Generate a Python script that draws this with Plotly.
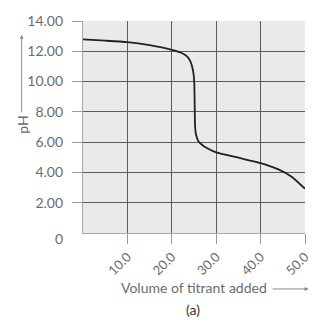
import plotly.graph_objects as go

volume = [0, 5, 10, 15, 20, 22, 23.5, 24.3, 24.8, 25.05, 25.15, 25.25, 25.45, 25.95, 27, 28, 30, 35, 40, 44, 47, 50]
ph = [12.78, 12.70, 12.60, 12.40, 12.10, 11.92, 11.65, 11.25, 10.7, 10.0, 8.5, 7.0, 6.5, 6.08, 5.78, 5.6, 5.32, 4.97, 4.62, 4.2, 3.72, 2.92]

y_ticks = [2, 4, 6, 8, 10, 12, 14]
y_labels = ["2.00", "4.00", "6.00", "8.00", "10.00", "12.00", "14.00"]
y_grid = [2, 4, 6, 8, 10, 12]
x_ticks = [10, 20, 30, 40, 50]
x_labels = ["10.0", "20.0", "30.0", "40.0", "50.0"]
x_grid = [10, 20, 30, 40]

FONT = "Lato"
TXT = "#6b6b6b"
GRID = "#5c5c5c"

fig = go.Figure()
fig.add_trace(go.Scatter(x=[volume[0]], y=[ph[0]], mode="markers", marker=dict(opacity=0),
                         showlegend=False, hoverinfo="skip", xaxis="x", yaxis="y"))
fig.add_trace(go.Scatter(x=volume, y=ph, mode="lines",
                         line=dict(color="#222222", width=1.8, shape="spline", smoothing=0.6),
                         showlegend=False, hoverinfo="skip", xaxis="x2", yaxis="y2"))

fig.update_layout(
    width=326, height=324,
    margin=dict(l=83, r=21, t=17, b=91),
    paper_bgcolor="white", plot_bgcolor="#e9eaeb",
    font=dict(family=FONT, size=14, color=TXT),
    xaxis=dict(range=[0, 50], tickvals=x_ticks, ticktext=x_labels, tickangle=-45,
               ticks="outside", ticklen=10, tickcolor="#999999", tickwidth=1,
               showgrid=False, showline=True, linecolor="#a8a8a8", linewidth=1.2,
               zeroline=False, tickfont=dict(family=FONT, size=13, color=TXT)),
    yaxis=dict(range=[0, 14], tickvals=y_ticks, ticktext=y_labels,
               ticks="outside", ticklen=10, tickcolor="#999999", tickwidth=1,
               showgrid=False, showline=True, linecolor="#a8a8a8", linewidth=1.2,
               zeroline=False, ticklabelstandoff=6,
               tickfont=dict(family=FONT, size=14, color=TXT)),
    xaxis2=dict(range=[0, 50], overlaying="x", tickvals=x_grid, showticklabels=False,
                ticks="", showgrid=True, gridcolor=GRID, gridwidth=1.3,
                showline=False, zeroline=False),
    yaxis2=dict(range=[0, 14], overlaying="y", tickvals=y_grid, showticklabels=False,
                ticks="", showgrid=True, gridcolor=GRID, gridwidth=1.3,
                showline=False, zeroline=False),
)

W, H = 222.0, 216.0
def px(x):
    return (x - 83.3) / W
def py(y):
    return (233 - y) / H

# axis-title arrows: shaft as shape line, head as a short annotation arrow
fig.add_shape(type="line", xref="paper", yref="paper", x0=px(22), x1=px(22), y0=py(110), y1=py(34),
              line=dict(color="#8a8a8a", width=1))
fig.add_shape(type="line", xref="paper", yref="paper", x0=px(273), x1=px(306), y0=py(290), y1=py(290),
              line=dict(color="#8a8a8a", width=1))

anns = [
    dict(text="0", x=px(65), y=py(239), xanchor="right", yanchor="middle", showarrow=False,
         font=dict(family=FONT, size=14, color=TXT)),
    dict(text="pH", x=px(22), y=py(123), textangle=-90, xanchor="center", yanchor="middle",
         showarrow=False, font=dict(family=FONT, size=14, color=TXT)),
    dict(text="", x=px(22), y=py(31), ax=0, ay=6, showarrow=True, arrowhead=2,
         arrowsize=0.8, arrowwidth=1, arrowcolor="#8a8a8a"),
    dict(text="Volume of titrant added", x=px(194), y=py(289), xanchor="center", yanchor="middle",
         showarrow=False, font=dict(family=FONT, size=14, color=TXT)),
    dict(text="", x=px(309), y=py(290), ax=-6, ay=0, showarrow=True, arrowhead=2,
         arrowsize=0.8, arrowwidth=1, arrowcolor="#8a8a8a"),
    dict(text="(a)", x=px(193), y=py(311), xanchor="center", yanchor="middle",
         showarrow=False, font=dict(family=FONT, size=14, color="#333333")),
]
for a in anns:
    a.setdefault("xref", "paper")
    a.setdefault("yref", "paper")
    fig.add_annotation(**a)

fig.write_html("out.html")
